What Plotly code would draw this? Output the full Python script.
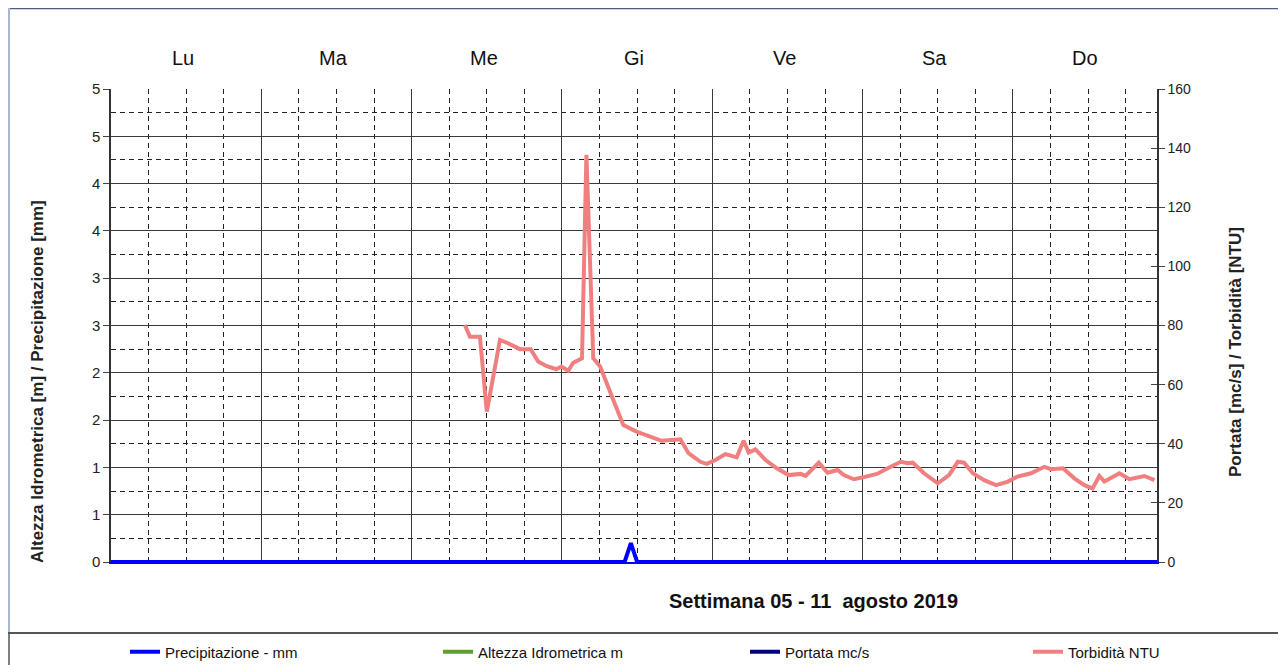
import plotly.graph_objects as go

# ---------------- data ----------------
days = ["Lu", "Ma", "Me", "Gi", "Ve", "Sa", "Do"]
left_tick_vals = [0, 0.5, 1, 1.5, 2, 2.5, 3, 3.5, 4, 4.5, 5]
left_tick_text = ["0", "1", "1", "2", "2", "3", "3", "4", "4", "5", "5"]

# precipitation (mm), hours from Monday 00:00
precip_hours = [0, 82, 83, 84, 167]
precip_mm = [0, 0, 0.2, 0, 0]

# turbidity (NTU), hours from Monday 00:00
turb_hours = [56.5, 57.3, 58.9, 60.0, 62.1, 63.4, 65.3, 67.0, 68.2, 69.5, 71.1, 71.9,
              73.0, 73.8, 75.2, 75.9, 77.0, 78.1, 80.2, 81.8, 83.9, 86.1, 87.9, 90.9,
              92.2, 94.1, 95.1, 96.5, 98.1, 99.9, 101.0, 101.8, 102.9, 104.5, 106.3,
              108.2, 110.1, 110.9, 113.0, 114.4, 116.0, 117.0, 118.6, 120.2, 122.3,
              124.0, 126.1, 127.2, 128.0, 129.8, 132.0, 133.8, 135.2, 136.2, 137.6,
              139.4, 141.3, 143.2, 144.7, 146.9, 149.0, 150.1, 152.0, 153.8, 155.4,
              156.7, 157.8, 158.6, 161.0, 162.6, 165.0, 166.6]
turb_ntu = [80.2, 76.2, 76.2, 50.9, 75.1, 74.0, 72.0, 72.0, 67.8, 66.3, 65.2, 66.1,
            64.7, 67.4, 68.9, 137.7, 68.9, 66.1, 54.8, 46.3, 44.1, 42.4, 41.0, 41.5,
            36.8, 33.9, 33.2, 34.5, 36.5, 35.4, 41.0, 37.0, 38.1, 34.5, 31.7,
            29.4, 29.8, 29.1, 33.6, 30.2, 31.1, 29.4, 28.0, 28.7, 29.8,
            31.7, 33.9, 33.4, 33.6, 30.0, 26.6, 29.4, 33.9, 33.6, 30.0,
            27.7, 26.0, 27.2, 28.9, 30.0, 32.2, 31.4, 31.7, 28.3, 26.0,
            24.9, 29.1, 27.2, 30.0, 28.0, 29.1, 27.7]

# ---------------- layout geometry (reference page pixels) ----------------
VW, VH = 1286, 665          # browser viewport
OFF = 8                     # default body margin of the html page
W, H = VW - OFF, VH - OFF   # figure size so it fits the viewport exactly
L, R, T, B = 111, 1157, 89, 562
PW, PH = R - L, B - T


def px(x):
    return (x - L) / PW


def py(y):
    return (B - y) / PH


FONT = "Arial, Liberation Sans, sans-serif"

fig = go.Figure()

fig.add_trace(go.Scatter(
    x=turb_hours, y=turb_ntu, mode="lines", name="Torbidità NTU",
    line=dict(color="#F08080", width=4), yaxis="y2", legend="legend4"))

fig.add_trace(go.Scatter(
    x=precip_hours, y=precip_mm, mode="lines", name="Precipitazione - mm",
    line=dict(color="#0000FF", width=4), legend="legend"))

fig.add_trace(go.Scatter(
    x=[None], y=[None], mode="lines", name="Altezza Idrometrica m",
    line=dict(color="#5E9E2E", width=4), legend="legend2"))

fig.add_trace(go.Scatter(
    x=[None], y=[None], mode="lines", name="Portata mc/s",
    line=dict(color="#000080", width=4), yaxis="y2", legend="legend3"))

fig.add_trace(go.Scatter(x=[None], y=[None], yaxis="y3", showlegend=False,
                         hoverinfo="skip"))

# ---------------- axes ----------------
fig.update_layout(
    xaxis=dict(range=[0, 167], showticklabels=False, ticks="",
               showgrid=True, gridcolor="#3a3a3a", gridwidth=1, dtick=24, tick0=0,
               minor=dict(dtick=6, tick0=0, showgrid=True, gridcolor="#202020",
                          griddash="5px,4px", gridwidth=1),
               zeroline=False, showline=True, linecolor="#0000FF", linewidth=2),
    yaxis=dict(range=[0, 5], tickvals=left_tick_vals, ticktext=left_tick_text,
               ticks="outside", ticklen=6, tickcolor="#444", tickwidth=1,
               showgrid=True, gridcolor="#3a3a3a", gridwidth=1,
               minor=dict(dtick=0.25, tick0=0, showgrid=True, gridcolor="#202020",
                          griddash="5px,4px", gridwidth=1),
               showline=True, linecolor="#333", linewidth=1.5, zeroline=False,
               tickfont=dict(family=FONT, size=15, color="#222")),
    yaxis2=dict(range=[0, 160], dtick=20, overlaying="y", side="right",
                ticks="outside", ticklen=6, tickcolor="#444", tickwidth=1,
                showgrid=False, showline=True, linecolor="#333", linewidth=1.5,
                zeroline=False, tickfont=dict(family=FONT, size=14, color="#222")),
    yaxis3=dict(range=[0, 160], dtick=20, overlaying="y", side="right",
                ticks="inside", ticklen=6, tickcolor="#444", tickwidth=1,
                showticklabels=False, showgrid=False, showline=False, zeroline=False),
)

# ---------------- annotations ----------------
ann = []
for i, d in enumerate(days):
    ann.append(dict(x=24 * i + 11.5, xref="x", y=py(58), yref="paper", text=d,
                    showarrow=False, font=dict(family=FONT, size=20, color="#111"),
                    xanchor="center", yanchor="middle"))
ann.append(dict(x=px(37), y=py(382), xref="paper", yref="paper",
                text="<b>Altezza Idrometrica [m] / Precipitazione [mm]</b>",
                textangle=-90, showarrow=False, xanchor="center", yanchor="middle",
                font=dict(family=FONT, size=17, color="#222")))
ann.append(dict(x=px(1235), y=py(352), xref="paper", yref="paper",
                text="<b>Portata [mc/s] / Torbidità [NTU]</b>",
                textangle=-90, showarrow=False, xanchor="center", yanchor="middle",
                font=dict(family=FONT, size=17, color="#222")))
ann.append(dict(x=px(813), y=py(601), xref="paper", yref="paper",
                text="<b>Settimana 05 - 11  agosto 2019</b>", showarrow=False,
                xanchor="center", yanchor="middle",
                font=dict(family=FONT, size=20, color="#111")))

# ---------------- frame shapes ----------------
shapes = [
    dict(type="line", xref="paper", yref="paper", x0=px(8), x1=px(1283),
         y0=py(8.5), y1=py(8.5), line=dict(color="#4F5A82", width=1.5)),
    dict(type="line", xref="paper", yref="paper", x0=px(9), x1=px(9),
         y0=py(8), y1=py(633), line=dict(color="#A9B7CC", width=2)),
    dict(type="line", xref="paper", yref="paper", x0=px(1282), x1=px(1282),
         y0=py(8), y1=py(633), line=dict(color="#E2E8F0", width=1)),
    dict(type="line", xref="paper", yref="paper", x0=px(0), x1=px(1286),
         y0=py(633), y1=py(633), line=dict(color="#555555", width=2)),
    dict(type="line", xref="paper", yref="paper", x0=px(9), x1=px(9),
         y0=py(633), y1=py(665), line=dict(color="#555555", width=1.5)),
]

leg_font = dict(family=FONT, size=15, color="#111")


def leg(xpix):
    return dict(x=px(xpix), y=py(652), xanchor="left", yanchor="middle",
                orientation="h", font=leg_font, bgcolor="rgba(0,0,0,0)",
                borderwidth=0, itemwidth=30)


fig.update_layout(
    width=W, height=H,
    margin=dict(l=L - OFF, r=VW - R, t=T - OFF, b=VH - B, pad=0, autoexpand=False),
    paper_bgcolor="white", plot_bgcolor="white",
    annotations=ann, shapes=shapes,
    legend=leg(125), legend2=leg(438), legend3=leg(745), legend4=leg(1028),
    showlegend=True,
)

fig.write_html("out.html")
